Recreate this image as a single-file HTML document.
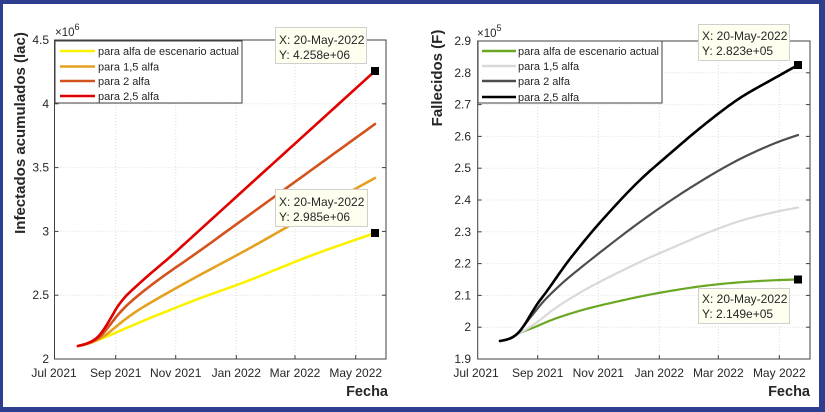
<!DOCTYPE html>
<html>
<head>
<meta charset="utf-8">
<style>
  html,body{margin:0;padding:0;background:#fff;}
  svg{display:block;}
  text{font-family:"Liberation Sans",Arial,sans-serif;fill:#262626;}
</style>
</head>
<body>
<svg id="fig" width="825" height="412" viewBox="0 0 825 412" xmlns="http://www.w3.org/2000/svg">
  <!-- frame -->
  <rect x="0" y="0" width="825" height="412" fill="#2e3e8f"/>
  <rect x="3" y="4" width="816" height="403" fill="#ffffff"/>

  <!-- ================= LEFT PLOT ================= -->
  <g>
    <g stroke="#dcdcdc" stroke-width="1" stroke-dasharray="1,2" fill="none">
      <line x1="115.7" y1="40" x2="115.7" y2="359"/>
      <line x1="175.7" y1="40" x2="175.7" y2="359"/>
      <line x1="236.3" y1="40" x2="236.3" y2="359"/>
      <line x1="295" y1="40" x2="295" y2="359"/>
      <line x1="355.7" y1="40" x2="355.7" y2="359"/>
      <line x1="54.5" y1="103.8" x2="386" y2="103.8"/>
      <line x1="54.5" y1="167.6" x2="386" y2="167.6"/>
      <line x1="54.5" y1="231.4" x2="386" y2="231.4"/>
      <line x1="54.5" y1="295.2" x2="386" y2="295.2"/>
    </g>
    <g stroke="#404040" stroke-width="1">
      <line x1="115.7" y1="359" x2="115.7" y2="355"/><line x1="115.7" y1="40" x2="115.7" y2="44"/>
      <line x1="175.7" y1="359" x2="175.7" y2="355"/><line x1="175.7" y1="40" x2="175.7" y2="44"/>
      <line x1="236.3" y1="359" x2="236.3" y2="355"/><line x1="236.3" y1="40" x2="236.3" y2="44"/>
      <line x1="295" y1="359" x2="295" y2="355"/><line x1="295" y1="40" x2="295" y2="44"/>
      <line x1="355.7" y1="359" x2="355.7" y2="355"/><line x1="355.7" y1="40" x2="355.7" y2="44"/>
      <line x1="54.5" y1="103.8" x2="58.5" y2="103.8"/><line x1="386" y1="103.8" x2="382" y2="103.8"/>
      <line x1="54.5" y1="167.6" x2="58.5" y2="167.6"/><line x1="386" y1="167.6" x2="382" y2="167.6"/>
      <line x1="54.5" y1="231.4" x2="58.5" y2="231.4"/><line x1="386" y1="231.4" x2="382" y2="231.4"/>
      <line x1="54.5" y1="295.2" x2="58.5" y2="295.2"/><line x1="386" y1="295.2" x2="382" y2="295.2"/>
    </g>
    <g fill="none" stroke-width="2.6" stroke-linejoin="round" stroke-linecap="round">
      <polyline class="s" stroke="#fbf200" points="78,346 86,344 94,341.5 103,338 115,333 126,328.2 137,323.5 150,318 170,310 198,299 250,280 310,256 375,233"/>
      <polyline class="s" stroke="#e6a020" points="78,346 86,344.2 94,341.5 100,338.5 107,334 115,327.5 125,319.5 137,311 150,303 170,291.5 198,276 250,248 310,214 375,178"/>
      <polyline class="s" stroke="#d4521c" points="78,346 86,344 94,340.5 100,336.5 106,330 113,321 120,312.5 130,302.5 145,290 165,275 198,252 250,214.4 310,171 375,124"/>
      <polyline class="s" stroke="#e00000" points="78,346 86,343.8 94,340 100,334.5 106,326 112,316 118,306 126,296 136,286.5 150,274 170,257 190,238.9 250,184.4 310,130 375,71"/>
    </g>
    <rect x="54.5" y="40" width="331.5" height="319" fill="none" stroke="#404040" stroke-width="1"/>
    <g font-size="12" text-anchor="end">
      <text x="49" y="363">2</text>
      <text x="49" y="299.2">2.5</text>
      <text x="49" y="235.4">3</text>
      <text x="49" y="171.6">3.5</text>
      <text x="49" y="107.8">4</text>
      <text x="49" y="44">4.5</text>
    </g>
    <g font-size="12" text-anchor="middle">
      <text x="54" y="377">Jul 2021</text>
      <text x="115.7" y="377">Sep 2021</text>
      <text x="175.7" y="377">Nov 2021</text>
      <text x="236.3" y="377">Jan 2022</text>
      <text x="295" y="377">Mar 2022</text>
      <text x="355.7" y="377">May 2022</text>
    </g>
    <text x="55" y="36" font-size="11.5">×10<tspan dy="-6" font-size="9">6</tspan></text>
    <text x="388" y="396" font-size="14.5" font-weight="bold" text-anchor="end" fill="#000">Fecha</text>
    <text transform="translate(25,133) rotate(-90)" font-size="15" font-weight="bold" text-anchor="middle" fill="#000">Infectados acumulados (lac)</text>
    <rect x="55" y="41" width="187" height="62" fill="#fff" stroke="#404040" stroke-width="1"/>
    <g stroke-width="2.6">
      <line x1="60" y1="51" x2="95" y2="51" stroke="#fbf200"/>
      <line x1="60" y1="66.5" x2="95" y2="66.5" stroke="#e6a020"/>
      <line x1="60" y1="81" x2="95" y2="81" stroke="#d4521c"/>
      <line x1="60" y1="96" x2="95" y2="96" stroke="#e00000"/>
    </g>
    <g font-size="11" fill="#000">
      <text x="98" y="55" textLength="141" lengthAdjust="spacingAndGlyphs">para alfa de escenario actual</text>
      <text x="98" y="70.5">para 1,5 alfa</text>
      <text x="98" y="85">para 2 alfa</text>
      <text x="98" y="100">para 2,5 alfa</text>
    </g>
    <rect x="371" y="67" width="8" height="8" fill="#000"/>
    <rect x="371" y="229" width="8" height="8" fill="#000"/>
    <rect x="275.5" y="27.5" width="91" height="36" fill="#fffff0" stroke="#cfcfcf" stroke-width="1"/>
    <text x="279" y="44" font-size="12" fill="#000">X: 20-May-2022</text>
    <text x="279" y="59" font-size="12" fill="#000">Y: 4.258e+06</text>
    <rect x="275.5" y="189.5" width="92" height="37" fill="#fffff0" stroke="#cfcfcf" stroke-width="1"/>
    <text x="279" y="206" font-size="12" fill="#000">X: 20-May-2022</text>
    <text x="279" y="221" font-size="12" fill="#000">Y: 2.985e+06</text>
  </g>

  <!-- ================= RIGHT PLOT ================= -->
  <g>
    <g stroke="#dcdcdc" stroke-width="1" stroke-dasharray="1,2" fill="none">
      <line x1="537.7" y1="41" x2="537.7" y2="359"/>
      <line x1="598.3" y1="41" x2="598.3" y2="359"/>
      <line x1="659.3" y1="41" x2="659.3" y2="359"/>
      <line x1="718.3" y1="41" x2="718.3" y2="359"/>
      <line x1="779.3" y1="41" x2="779.3" y2="359"/>
      <line x1="477.7" y1="72.8" x2="810" y2="72.8"/>
      <line x1="477.7" y1="104.6" x2="810" y2="104.6"/>
      <line x1="477.7" y1="136.4" x2="810" y2="136.4"/>
      <line x1="477.7" y1="168.2" x2="810" y2="168.2"/>
      <line x1="477.7" y1="200" x2="810" y2="200"/>
      <line x1="477.7" y1="231.8" x2="810" y2="231.8"/>
      <line x1="477.7" y1="263.6" x2="810" y2="263.6"/>
      <line x1="477.7" y1="295.4" x2="810" y2="295.4"/>
      <line x1="477.7" y1="327.2" x2="810" y2="327.2"/>
    </g>
    <g stroke="#404040" stroke-width="1">
      <line x1="537.7" y1="359" x2="537.7" y2="355"/><line x1="537.7" y1="41" x2="537.7" y2="45"/>
      <line x1="598.3" y1="359" x2="598.3" y2="355"/><line x1="598.3" y1="41" x2="598.3" y2="45"/>
      <line x1="659.3" y1="359" x2="659.3" y2="355"/><line x1="659.3" y1="41" x2="659.3" y2="45"/>
      <line x1="718.3" y1="359" x2="718.3" y2="355"/><line x1="718.3" y1="41" x2="718.3" y2="45"/>
      <line x1="779.3" y1="359" x2="779.3" y2="355"/><line x1="779.3" y1="41" x2="779.3" y2="45"/>
      <line x1="477.7" y1="72.8" x2="481.7" y2="72.8"/><line x1="810" y1="72.8" x2="806" y2="72.8"/>
      <line x1="477.7" y1="104.6" x2="481.7" y2="104.6"/><line x1="810" y1="104.6" x2="806" y2="104.6"/>
      <line x1="477.7" y1="136.4" x2="481.7" y2="136.4"/><line x1="810" y1="136.4" x2="806" y2="136.4"/>
      <line x1="477.7" y1="168.2" x2="481.7" y2="168.2"/><line x1="810" y1="168.2" x2="806" y2="168.2"/>
      <line x1="477.7" y1="200" x2="481.7" y2="200"/><line x1="810" y1="200" x2="806" y2="200"/>
      <line x1="477.7" y1="231.8" x2="481.7" y2="231.8"/><line x1="810" y1="231.8" x2="806" y2="231.8"/>
      <line x1="477.7" y1="263.6" x2="481.7" y2="263.6"/><line x1="810" y1="263.6" x2="806" y2="263.6"/>
      <line x1="477.7" y1="295.4" x2="481.7" y2="295.4"/><line x1="810" y1="295.4" x2="806" y2="295.4"/>
      <line x1="477.7" y1="327.2" x2="481.7" y2="327.2"/><line x1="810" y1="327.2" x2="806" y2="327.2"/>
    </g>
    <g fill="none" stroke-width="2.2" stroke-linejoin="round" stroke-linecap="round">
      <polyline class="s" stroke="#6aa823" points="500,341 508,339 515,335.5 520,333 535,327 557,318 590,308 638,297 673,290.5 707,285.5 740,282.3 773,280.3 798,279.5"/>
      <polyline class="s" stroke="#d9d9d9" points="500,341 508,339 515,336 520,333 527,329 540,320 557,307 590,287 640,262 673,247.5 707,233 740,221 773,212.5 798,207.5"/>
      <polyline class="s" stroke="#4d4d4d" points="500,341 507,339.5 513,337 518,333 523,327 530,318 543,302 557,288 573,274 607,247 640,222 673,199 707,177.5 740,159 773,144 798,135"/>
      <polyline class="s" stroke="#000" stroke-width="2.6" points="500,341 507,339.5 513,337 519,332 525,324 531,314 538,303 547,291 560,272.5 573,255 600,222.5 637,183 673,151 707,122.5 740,98 773,79 798,65"/>
    </g>
    <rect x="477.7" y="41" width="332.3" height="318" fill="none" stroke="#404040" stroke-width="1"/>
    <g font-size="12" text-anchor="end">
      <text x="471" y="363">1.9</text>
      <text x="471" y="331.2">2</text>
      <text x="471" y="299.4">2.1</text>
      <text x="471" y="267.6">2.2</text>
      <text x="471" y="235.8">2.3</text>
      <text x="471" y="204">2.4</text>
      <text x="471" y="172.2">2.5</text>
      <text x="471" y="140.4">2.6</text>
      <text x="471" y="108.6">2.7</text>
      <text x="471" y="76.8">2.8</text>
      <text x="471" y="45">2.9</text>
    </g>
    <g font-size="12" text-anchor="middle">
      <text x="476" y="377">Jul 2021</text>
      <text x="537.7" y="377">Sep 2021</text>
      <text x="598.3" y="377">Nov 2021</text>
      <text x="659.3" y="377">Jan 2022</text>
      <text x="718.3" y="377">Mar 2022</text>
      <text x="779.3" y="377">May 2022</text>
    </g>
    <text x="477" y="37" font-size="11.5">×10<tspan dy="-6" font-size="9">5</tspan></text>
    <text x="810" y="396" font-size="14.5" font-weight="bold" text-anchor="end" fill="#000">Fecha</text>
    <text transform="translate(442,78) rotate(-90)" font-size="15" font-weight="bold" text-anchor="middle" fill="#000">Fallecidos (F)</text>
    <rect x="478" y="41" width="184" height="62" fill="#fff" stroke="#404040" stroke-width="1"/>
    <g stroke-width="2.4">
      <line x1="482" y1="51" x2="516" y2="51" stroke="#6aa823"/>
      <line x1="482" y1="66" x2="516" y2="66" stroke="#d9d9d9"/>
      <line x1="482" y1="81" x2="516" y2="81" stroke="#4d4d4d"/>
      <line x1="482" y1="97" x2="516" y2="97" stroke="#000"/>
    </g>
    <g font-size="11" fill="#000">
      <text x="518" y="55" textLength="141" lengthAdjust="spacingAndGlyphs">para alfa de escenario actual</text>
      <text x="518" y="70">para 1,5 alfa</text>
      <text x="518" y="85">para 2 alfa</text>
      <text x="518" y="101">para 2,5 alfa</text>
    </g>
    <rect x="794" y="61" width="8" height="8" fill="#000"/>
    <rect x="794" y="275.5" width="8" height="8" fill="#000"/>
    <rect x="698.5" y="24.5" width="91" height="36" fill="#fffff0" stroke="#cfcfcf" stroke-width="1"/>
    <text x="702" y="40" font-size="12" fill="#000">X: 20-May-2022</text>
    <text x="702" y="55" font-size="12" fill="#000">Y: 2.823e+05</text>
    <rect x="698.5" y="288.5" width="91" height="35" fill="#fffff0" stroke="#cfcfcf" stroke-width="1"/>
    <text x="702" y="303" font-size="12" fill="#000">X: 20-May-2022</text>
    <text x="702" y="318" font-size="12" fill="#000">Y: 2.149e+05</text>
  </g>
</svg>
<script>
(function(){
  var pls = document.querySelectorAll('polyline.s');
  for (var k=0;k<pls.length;k++){
    var pl = pls[k];
    var raw = pl.getAttribute('points').trim().split(/\s+/).map(function(s){var a=s.split(',');return [parseFloat(a[0]),parseFloat(a[1])];});
    var n = raw.length, out=[];
    for (var i=0;i<n-1;i++){
      var p0 = raw[Math.max(i-1,0)], p1=raw[i], p2=raw[i+1], p3=raw[Math.min(i+2,n-1)];
      var steps=12;
      for (var j=0;j<steps;j++){
        var t=j/steps, t2=t*t, t3=t2*t;
        var x=0.5*((2*p1[0])+(-p0[0]+p2[0])*t+(2*p0[0]-5*p1[0]+4*p2[0]-p3[0])*t2+(-p0[0]+3*p1[0]-3*p2[0]+p3[0])*t3);
        var y=0.5*((2*p1[1])+(-p0[1]+p2[1])*t+(2*p0[1]-5*p1[1]+4*p2[1]-p3[1])*t2+(-p0[1]+3*p1[1]-3*p2[1]+p3[1])*t3);
        out.push(x.toFixed(2)+','+y.toFixed(2));
      }
    }
    out.push(raw[n-1][0]+','+raw[n-1][1]);
    pl.setAttribute('points', out.join(' '));
  }
})();
</script>
</body>
</html>
